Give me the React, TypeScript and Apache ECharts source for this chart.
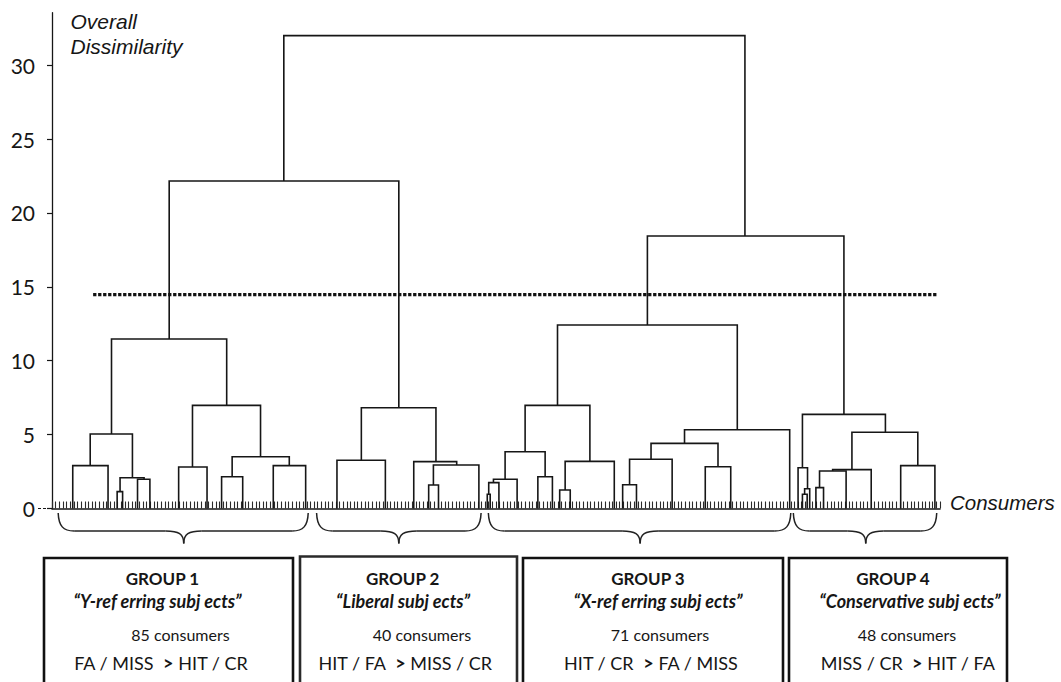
import React, { useEffect, useRef } from "react";
import * as echarts from "echarts";

// ---- data (x = position in the consumer ordering, 0..244; y = overall dissimilarity) ----
const consumerCount = 244;
const yTicks = [0, 5, 10, 15, 20, 25, 30];
const cutHeight = 14.47;
const cutRange = [11.3, 243.2];

// merges: [xLeft, xRight, height, leftChildHeight, rightChildHeight]
const topMerges = [
  [63.7, 190.4, 32.0, 22.16, 18.44],
  [32.2, 95.3, 22.16, 11.47, 6.82],
  [163.6, 217.6, 18.44, 12.42, 6.37],
];
const group1Merges = [
  [16.35, 48.0, 11.47, 5.04, 6.98],
  [10.5, 22.1, 5.04, 2.9, 2.08],
  [5.7, 15.4, 2.9, 0, 0],
  [18.7, 25.3, 2.08, 1.14, 1.98],
  [17.9, 19.4, 1.14, 0, 0],
  [23.5, 26.9, 1.98, 0, 0],
  [38.6, 57.3, 6.98, 2.81, 3.5],
  [34.8, 42.6, 2.81, 0, 0],
  [49.5, 65.2, 3.5, 2.15, 2.9],
  [46.6, 52.4, 2.15, 0, 0],
  [60.8, 69.7, 2.9, 0, 0],
];
const group2Merges = [
  [85.0, 105.5, 6.82, 3.26, 3.17],
  [78.3, 91.6, 3.26, 0, 0],
  [99.4, 111.2, 3.17, 0, 2.94],
  [104.8, 117.3, 2.94, 1.59, 0],
  [103.5, 106.2, 1.59, 0, 0],
];
const group3Merges = [
  [138.9, 188.3, 12.42, 6.98, 5.33],
  [130.0, 147.8, 6.98, 3.84, 3.19],
  [124.5, 135.5, 3.84, 1.98, 2.15],
  [121.3, 127.8, 1.98, 1.75, 0],
  [120.0, 122.8, 1.75, 0.96, 0],
  [119.6, 120.4, 0.96, 0, 0],
  [133.5, 137.5, 2.15, 0, 0],
  [141.0, 154.5, 3.19, 1.25, 0],
  [139.5, 142.4, 1.25, 0, 0],
  [173.8, 202.7, 5.33, 4.41, 0],
  [164.6, 183.0, 4.41, 3.33, 2.83],
  [158.7, 170.4, 3.33, 1.61, 0],
  [156.8, 160.6, 1.61, 0, 0],
  [179.5, 186.5, 2.83, 0, 0],
];
const group4Merges = [
  [206.2, 229.0, 6.37, 2.76, 5.16],
  [205.0, 207.6, 2.76, 0, 1.34],
  [206.8, 208.2, 1.34, 0.96, 0],
  [206.2, 207.5, 0.96, 0, 0],
  [219.8, 237.9, 5.16, 2.63, 2.9],
  [214.5, 225.1, 2.63, 2.54, 0],
  [210.9, 218.2, 2.54, 1.41, 0],
  [209.9, 212.0, 1.41, 0, 0],
  [233.2, 242.6, 2.9, 0, 0],
];

// braces under the axis: [start, end, tip] in consumer positions
const braceSpans = [
  [1.7, 70.4, 36.2],
  [72.7, 117.9, 95.3],
  [119.9, 203.0, 161.6],
  [203.7, 243.1, 223.6],
];

const groupTitles = ["GROUP 1", "GROUP 2", "GROUP 3", "GROUP 4"];
const groupNames = [
  "\u201cY-ref erring subj ects\u201d",
  "\u201cLiberal subj ects\u201d",
  "\u201cX-ref erring subj ects\u201d",
  "\u201cConservative subj ects\u201d",
];
const groupSizes = [85, 40, 71, 48];
const groupRulesHigh = ["FA / MISS", "HIT / FA", "HIT / CR", "MISS / CR"];
const groupRulesLow = ["HIT / CR", "MISS / CR", "FA / MISS", "HIT / FA"];

// ---- layout (pixels) ----
const boxLeft = [44, 300, 523, 789];
const boxRight = [293, 517, 783, 1007];
const boxTop = [558, 556.5, 558, 558];
const titleX = [162.5, 402.7, 648, 893];
const nameX = [157.5, 403, 658, 910];
const countX = [180.5, 422, 660, 907];
const ruleX = [161, 405, 651, 908];

const INK = "#161616";
const BOXFONT = "Lato";

export default function App() {
  const ref = useRef<HTMLDivElement>(null);

  useEffect(() => {
    document.body.style.margin = "0";
    if (!ref.current) return;
    const chart = echarts.init(ref.current, null, { renderer: "svg" });

    const allMerges = [
      ...topMerges,
      ...group1Merges,
      ...group2Merges,
      ...group3Merges,
      ...group4Merges,
    ];

    const graphics: any[] = [];
    for (let i = 0; i < 4; i++) {
      graphics.push({
        type: "rect",
        silent: true,
        shape: { x: boxLeft[i], y: boxTop[i], width: boxRight[i] - boxLeft[i], height: 200 },
        style: { fill: "none", stroke: i === 1 ? "#2a2a2a" : "#111", lineWidth: 2.6 },
      });
      graphics.push({
        type: "text",
        silent: true,
        style: {
          text: groupTitles[i],
          x: titleX[i],
          y: 578.5,
          textAlign: "center",
          textVerticalAlign: "middle",
          fontFamily: BOXFONT,
          fontWeight: "bold",
          fontSize: 17,
          fill: INK,
        },
      });
      graphics.push({
        type: "text",
        silent: true,
        style: {
          text: groupNames[i],
          x: nameX[i],
          y: 600.5,
          textAlign: "center",
          textVerticalAlign: "middle",
          fontFamily: BOXFONT,
          fontWeight: "bold",
          fontStyle: "italic",
          fontSize: 18,
          fill: INK,
        },
      });
      graphics.push({
        type: "text",
        silent: true,
        style: {
          text: `${groupSizes[i]} consumers`,
          x: countX[i],
          y: 634,
          textAlign: "center",
          textVerticalAlign: "middle",
          fontFamily: BOXFONT,
          fontSize: 16,
          fill: INK,
        },
      });
      graphics.push({
        type: "text",
        silent: true,
        style: {
          text: `${groupRulesHigh[i]}  {b|>} ${groupRulesLow[i]}`,
          x: ruleX[i],
          y: 662.5,
          textAlign: "center",
          textVerticalAlign: "middle",
          fontFamily: BOXFONT,
          fontSize: 18,
          fill: INK,
          rich: {
            b: { fontFamily: BOXFONT, fontSize: 18, fontWeight: "bold", fill: INK },
          },
        },
      });
    }
    graphics.push(
      {
        type: "text",
        silent: true,
        style: {
          text: "Overall",
          x: 70.5,
          y: 21.5,
          textVerticalAlign: "middle",
          fontFamily: "Liberation Sans",
          fontStyle: "italic",
          fontSize: 21,
          fill: INK,
        },
      },
      {
        type: "text",
        silent: true,
        style: {
          text: "Dissimilarity",
          x: 70.5,
          y: 46.5,
          textVerticalAlign: "middle",
          fontFamily: "Liberation Sans",
          fontStyle: "italic",
          fontSize: 21,
          fill: INK,
        },
      },
      {
        type: "text",
        silent: true,
        style: {
          text: "Consumers",
          x: 950,
          y: 502.5,
          textVerticalAlign: "middle",
          fontFamily: "Liberation Sans",
          fontStyle: "italic",
          fontSize: 20.5,
          fill: INK,
        },
      },
      {
        type: "line",
        silent: true,
        shape: { x1: 38, y1: 508.5, x2: 51, y2: 508.5 },
        style: { stroke: INK, lineWidth: 1.2, lineDash: [3, 2] },
      }
    );

    chart.setOption({
      animation: false,
      backgroundColor: "#ffffff",
      grid: {
        left: 52,
        right: 121,
        top: 12.7,
        bottom: 173.5,
        containLabel: false,
        outerBoundsMode: "none",
      },
      xAxis: {
        type: "value",
        min: 0,
        max: consumerCount,
        interval: 1,
        axisLine: { show: true, onZero: false, lineStyle: { color: INK, width: 1.6 } },
        axisTick: { show: true, inside: true, length: 7, lineStyle: { color: "#2a2a2a", width: 1.1 } },
        axisLabel: { show: false },
        splitLine: { show: false },
      },
      yAxis: {
        type: "value",
        min: 0,
        max: 33.55,
        axisLine: { show: true, lineStyle: { color: INK, width: 1.3 } },
        axisTick: { show: true, length: 5, customValues: yTicks, lineStyle: { color: INK, width: 1.2 } },
        axisLabel: {
          customValues: yTicks,
          margin: 17,
          fontFamily: "Lato",
          fontSize: 21,
          color: INK,
        },
        splitLine: { show: false },
      },
      series: [
        {
          type: "lines",
          coordinateSystem: "cartesian2d",
          polyline: true,
          silent: true,
          data: allMerges.map((m) => ({
            coords: [
              [m[0], m[3]],
              [m[0], m[2]],
              [m[1], m[2]],
              [m[1], m[4]],
            ],
          })),
          lineStyle: { color: INK, width: 1.6, opacity: 1 },
          z: 3,
        },
        {
          type: "line",
          silent: true,
          symbol: "none",
          data: [
            [cutRange[0], cutHeight],
            [cutRange[1], cutHeight],
          ],
          lineStyle: { color: "#111", width: 3.3, type: [3.3, 1.7], cap: "butt" },
          z: 4,
        },
        {
          type: "custom",
          coordinateSystem: "cartesian2d",
          silent: true,
          clip: false,
          data: braceSpans,
          renderItem: (params: any, api: any) => {
            const a = api.coord([api.value(0), 0]);
            const b = api.coord([api.value(1), 0]);
            const t = api.coord([api.value(2), 0]);
            const x1 = a[0];
            const x2 = b[0];
            const tx = t[0];
            const y0 = a[1] + 4.5;
            const y1 = a[1] + 22.5;
            const y2 = a[1] + 35;
            const st = { stroke: "#222", lineWidth: 1.5, fill: "none" };
            return {
              type: "group",
              children: [
                {
                  type: "bezierCurve",
                  shape: { x1, y1: y0, cpx1: x1 + 0.5, cpy1: y1 - 5, cpx2: x1 + 5, cpy2: y1, x2: x1 + 16, y2: y1 },
                  style: st,
                },
                { type: "line", shape: { x1: x1 + 16, y1, x2: tx - 18, y2: y1 }, style: st },
                {
                  type: "bezierCurve",
                  shape: { x1: tx - 18, y1, cpx1: tx - 5, cpy1: y1, cpx2: tx, cpy2: y1 + 3, x2: tx, y2 },
                  style: st,
                },
                {
                  type: "bezierCurve",
                  shape: { x1: tx + 18, y1, cpx1: tx + 5, cpy1: y1, cpx2: tx, cpy2: y1 + 3, x2: tx, y2 },
                  style: st,
                },
                { type: "line", shape: { x1: tx + 18, y1, x2: x2 - 16, y2: y1 }, style: st },
                {
                  type: "bezierCurve",
                  shape: { x1: x2, y1: y0, cpx1: x2 - 0.5, cpy1: y1 - 5, cpx2: x2 - 5, cpy2: y1, x2: x2 - 16, y2: y1 },
                  style: st,
                },
              ],
            };
          },
          z: 3,
        },
      ],
      graphic: graphics,
    });

    return () => {
      chart.dispose();
    };
  }, []);

  return <div ref={ref} style={{ width: 1061, height: 682 }} />;
}
